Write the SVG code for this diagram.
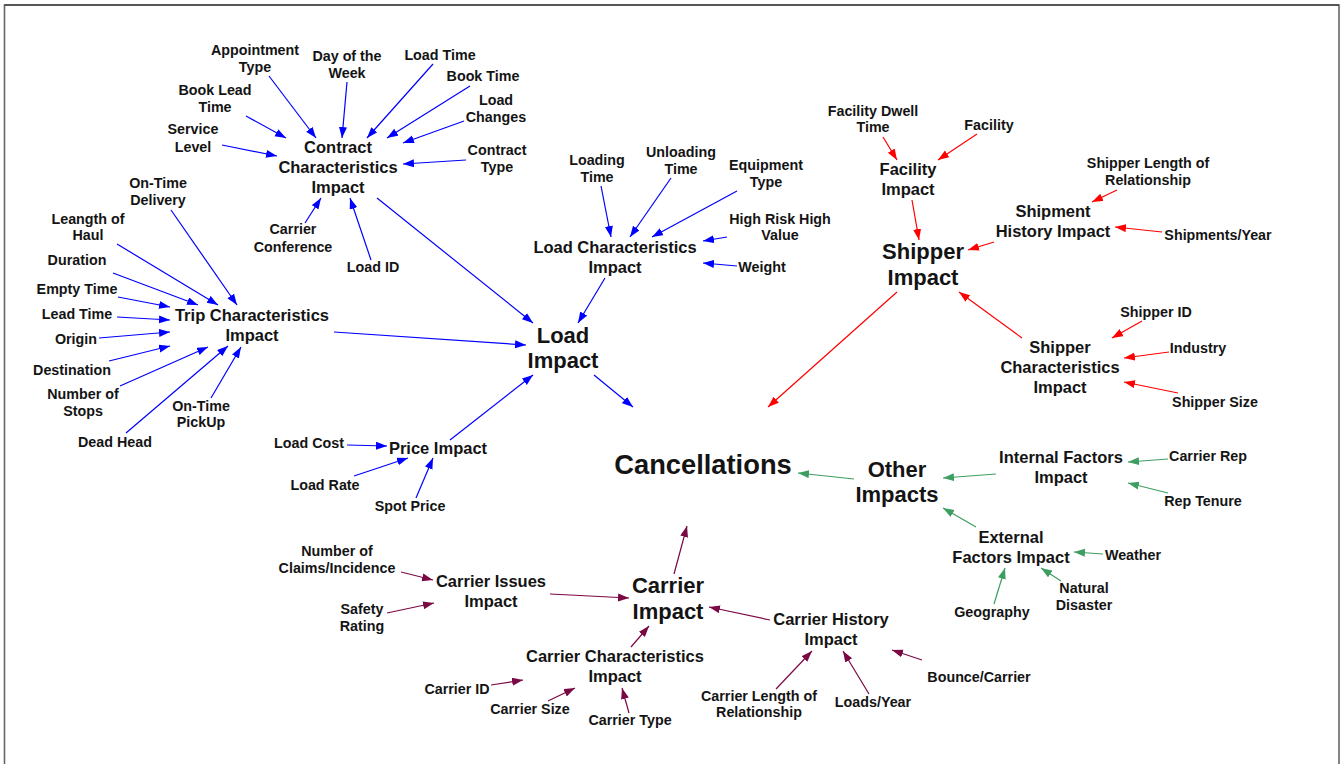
<svg xmlns="http://www.w3.org/2000/svg" width="1341" height="764" viewBox="0 0 1341 764">
<style>
text{font-family:"Liberation Sans",Arial,sans-serif;font-weight:bold;fill:#141414;text-anchor:middle}
.s{font-size:14.3px}
.m{font-size:16.5px}
.l{font-size:22px}
.c{font-size:27.3px}
.b{stroke:#0000FF;stroke-width:1.2;fill:none;marker-end:url(#ab)}
.r{stroke:#FF0000;stroke-width:1.2;fill:none;marker-end:url(#ar)}
.g{stroke:#3E9E62;stroke-width:1.2;fill:none;marker-end:url(#ag)}
.p{stroke:#7A0844;stroke-width:1.2;fill:none;marker-end:url(#ap)}
</style>
<defs>
<marker id="ab" markerUnits="userSpaceOnUse" markerWidth="12" markerHeight="9" refX="11" refY="4" orient="auto"><path d="M0,0 L11,4 L0,8 z" fill="#0000FF"/></marker>
<marker id="ar" markerUnits="userSpaceOnUse" markerWidth="12" markerHeight="9" refX="11" refY="4" orient="auto"><path d="M0,0 L11,4 L0,8 z" fill="#FF0000"/></marker>
<marker id="ag" markerUnits="userSpaceOnUse" markerWidth="12" markerHeight="9" refX="11" refY="4" orient="auto"><path d="M0,0 L11,4 L0,8 z" fill="#3E9E62"/></marker>
<marker id="ap" markerUnits="userSpaceOnUse" markerWidth="12" markerHeight="9" refX="11" refY="4" orient="auto"><path d="M0,0 L11,4 L0,8 z" fill="#7A0844"/></marker>
</defs>
<rect width="1341" height="764" fill="#fff"/>
<path d="M4.5,764 V5 H1339 V764" fill="none" stroke="#666" stroke-width="1.6"/>
<path d="M4.5,5 H1339" fill="none" stroke="#222" stroke-width="1.2"/>

<g id="connectors">
<!-- contract -->
<line class="b" x1="269" y1="76" x2="316" y2="138"/>
<line class="b" x1="347" y1="82" x2="342" y2="138"/>
<line class="b" x1="433" y1="64" x2="367" y2="138"/>
<line class="b" x1="470" y1="86" x2="387" y2="138"/>
<line class="b" x1="464" y1="121" x2="403" y2="143"/>
<line class="b" x1="466" y1="160" x2="403" y2="164"/>
<line class="b" x1="246" y1="116" x2="286" y2="138"/>
<line class="b" x1="222" y1="145" x2="277" y2="156"/>
<line class="b" x1="305" y1="223" x2="321" y2="198"/>
<line class="b" x1="371" y1="260" x2="350" y2="198"/>
<line class="b" x1="377" y1="198" x2="533" y2="323"/>
<!-- trip -->
<line class="b" x1="171" y1="210" x2="237" y2="305"/>
<line class="b" x1="117" y1="244" x2="218" y2="305"/>
<line class="b" x1="113" y1="273" x2="198" y2="305"/>
<line class="b" x1="118" y1="297" x2="170" y2="307"/>
<line class="b" x1="117" y1="317" x2="170" y2="320"/>
<line class="b" x1="99" y1="338" x2="170" y2="332"/>
<line class="b" x1="109" y1="361" x2="170" y2="346"/>
<line class="b" x1="120" y1="386" x2="208" y2="347"/>
<line class="b" x1="126" y1="433" x2="228" y2="346"/>
<line class="b" x1="211" y1="398" x2="241" y2="347"/>
<line class="b" x1="334" y1="332" x2="526" y2="345"/>
<!-- load characteristics -->
<line class="b" x1="601" y1="186" x2="611" y2="237"/>
<line class="b" x1="671" y1="178" x2="630" y2="237"/>
<line class="b" x1="737" y1="191" x2="652" y2="237"/>
<line class="b" x1="727" y1="237" x2="703" y2="241"/>
<line class="b" x1="737" y1="266" x2="703" y2="263"/>
<line class="b" x1="605" y1="278" x2="578" y2="323"/>
<!-- price -->
<line class="b" x1="347" y1="445" x2="387" y2="446"/>
<line class="b" x1="354" y1="476" x2="408" y2="458"/>
<line class="b" x1="416" y1="498" x2="433" y2="458"/>
<line class="b" x1="450" y1="440" x2="533" y2="375"/>
<line class="b" x1="594" y1="375" x2="633" y2="407"/>
<!-- shipper -->
<line class="r" x1="883" y1="137" x2="897" y2="160"/>
<line class="r" x1="977" y1="134" x2="938" y2="160"/>
<line class="r" x1="912" y1="200" x2="919" y2="240"/>
<line class="r" x1="1117" y1="190" x2="1092" y2="202"/>
<line class="r" x1="1162" y1="232" x2="1115" y2="227"/>
<line class="r" x1="994" y1="242" x2="968" y2="250"/>
<line class="r" x1="1142" y1="321" x2="1112" y2="338"/>
<line class="r" x1="1169" y1="352" x2="1124" y2="358"/>
<line class="r" x1="1178" y1="393" x2="1124" y2="382"/>
<line class="r" x1="1022" y1="338" x2="959" y2="292"/>
<line class="r" x1="897" y1="292" x2="768" y2="407"/>
<!-- other -->
<line class="g" x1="1168" y1="459" x2="1128" y2="462"/>
<line class="g" x1="1168" y1="493" x2="1128" y2="483"/>
<line class="g" x1="996" y1="474" x2="943" y2="478"/>
<line class="g" x1="1103" y1="554" x2="1074" y2="552"/>
<line class="g" x1="1061" y1="581" x2="1041" y2="568"/>
<line class="g" x1="994" y1="604" x2="1005" y2="568"/>
<line class="g" x1="976" y1="527" x2="943" y2="508"/>
<line class="g" x1="854" y1="479" x2="798" y2="473"/>
<!-- carrier -->
<line class="p" x1="401" y1="572" x2="433" y2="580"/>
<line class="p" x1="387" y1="613" x2="434" y2="603"/>
<line class="p" x1="550" y1="594" x2="629" y2="598"/>
<line class="p" x1="491" y1="685" x2="523" y2="680"/>
<line class="p" x1="548" y1="701" x2="575" y2="688"/>
<line class="p" x1="629" y1="713" x2="622" y2="688"/>
<line class="p" x1="631" y1="647" x2="649" y2="626"/>
<line class="p" x1="776" y1="689" x2="812" y2="651"/>
<line class="p" x1="869" y1="694" x2="843" y2="651"/>
<line class="p" x1="922" y1="660" x2="892" y2="650"/>
<line class="p" x1="770" y1="620" x2="709" y2="607"/>
<line class="p" x1="674" y1="574" x2="687" y2="526"/>
</g>

<g id="cancellations"><text class="c" x="703" y="474">Cancellations</text></g>

<g id="load-impact"><text class="l" x="563" y="343">Load</text><text class="l" x="563" y="368">Impact</text></g>
<g id="contract-impact"><text class="m" x="338" y="153">Contract</text><text class="m" x="338" y="173">Characteristics</text><text class="m" x="338" y="193">Impact</text></g>
<g id="appointment-type"><text class="s" x="255" y="55">Appointment</text><text class="s" x="255" y="72">Type</text></g>
<g id="day-of-week"><text class="s" x="347" y="61">Day of the</text><text class="s" x="347" y="78">Week</text></g>
<g id="load-time"><text class="s" x="440" y="60">Load Time</text></g>
<g id="book-time"><text class="s" x="483" y="81">Book Time</text></g>
<g id="load-changes"><text class="s" x="496" y="105">Load</text><text class="s" x="496" y="122">Changes</text></g>
<g id="contract-type"><text class="s" x="497" y="155">Contract</text><text class="s" x="497" y="172">Type</text></g>
<g id="book-lead-time"><text class="s" x="215" y="95">Book Lead</text><text class="s" x="215" y="112">Time</text></g>
<g id="service-level"><text class="s" x="193" y="134">Service</text><text class="s" x="193" y="152">Level</text></g>
<g id="carrier-conference"><text class="s" x="293" y="234">Carrier</text><text class="s" x="293" y="252">Conference</text></g>
<g id="load-id"><text class="s" x="373" y="272">Load ID</text></g>

<g id="trip-impact"><text class="m" x="252" y="321">Trip Characteristics</text><text class="m" x="252" y="341">Impact</text></g>
<g id="on-time-delivery"><text class="s" x="158" y="188">On-Time</text><text class="s" x="158" y="205">Delivery</text></g>
<g id="length-of-haul"><text class="s" x="88" y="224">Leangth of</text><text class="s" x="88" y="240">Haul</text></g>
<g id="duration"><text class="s" x="77" y="265">Duration</text></g>
<g id="empty-time"><text class="s" x="77" y="294">Empty Time</text></g>
<g id="lead-time"><text class="s" x="77" y="319">Lead Time</text></g>
<g id="origin"><text class="s" x="76" y="344">Origin</text></g>
<g id="destination"><text class="s" x="72" y="375">Destination</text></g>
<g id="number-of-stops"><text class="s" x="83" y="399">Number of</text><text class="s" x="83" y="416">Stops</text></g>
<g id="on-time-pickup"><text class="s" x="201" y="411">On-Time</text><text class="s" x="201" y="427">PickUp</text></g>
<g id="dead-head"><text class="s" x="115" y="447">Dead Head</text></g>

<g id="load-char-impact"><text class="m" x="615" y="253">Load Characteristics</text><text class="m" x="615" y="273">Impact</text></g>
<g id="loading-time"><text class="s" x="597" y="165">Loading</text><text class="s" x="597" y="182">Time</text></g>
<g id="unloading-time"><text class="s" x="681" y="157">Unloading</text><text class="s" x="681" y="174">Time</text></g>
<g id="equipment-type"><text class="s" x="766" y="170">Equipment</text><text class="s" x="766" y="187">Type</text></g>
<g id="high-risk"><text class="s" x="780" y="224">High Risk High</text><text class="s" x="780" y="240">Value</text></g>
<g id="weight"><text class="s" x="762" y="272">Weight</text></g>

<g id="price-impact"><text class="m" x="438" y="454">Price Impact</text></g>
<g id="load-cost"><text class="s" x="309" y="448">Load Cost</text></g>
<g id="load-rate"><text class="s" x="325" y="490">Load Rate</text></g>
<g id="spot-price"><text class="s" x="410" y="511">Spot Price</text></g>

<g id="shipper-impact"><text class="l" x="923" y="259">Shipper</text><text class="l" x="923" y="285">Impact</text></g>
<g id="facility-impact"><text class="m" x="908" y="175">Facility</text><text class="m" x="908" y="195">Impact</text></g>
<g id="facility-dwell"><text class="s" x="873" y="116">Facility Dwell</text><text class="s" x="873" y="132">Time</text></g>
<g id="facility"><text class="s" x="989" y="130">Facility</text></g>
<g id="shipment-history"><text class="m" x="1053" y="217">Shipment</text><text class="m" x="1053" y="237">History Impact</text></g>
<g id="shipper-length"><text class="s" x="1148" y="168">Shipper Length of</text><text class="s" x="1148" y="185">Relationship</text></g>
<g id="shipments-year"><text class="s" x="1218" y="240">Shipments/Year</text></g>
<g id="shipper-char"><text class="m" x="1060" y="353">Shipper</text><text class="m" x="1060" y="373">Characteristics</text><text class="m" x="1060" y="393">Impact</text></g>
<g id="shipper-id"><text class="s" x="1156" y="317">Shipper ID</text></g>
<g id="industry"><text class="s" x="1198" y="353">Industry</text></g>
<g id="shipper-size"><text class="s" x="1215" y="407">Shipper Size</text></g>

<g id="other-impacts"><text class="l" x="897" y="477">Other</text><text class="l" x="897" y="502">Impacts</text></g>
<g id="internal-factors"><text class="m" x="1061" y="463">Internal Factors</text><text class="m" x="1061" y="483">Impact</text></g>
<g id="carrier-rep"><text class="s" x="1208" y="461">Carrier Rep</text></g>
<g id="rep-tenure"><text class="s" x="1203" y="506">Rep Tenure</text></g>
<g id="external-factors"><text class="m" x="1011" y="543">External</text><text class="m" x="1011" y="563">Factors Impact</text></g>
<g id="weather"><text class="s" x="1133" y="560">Weather</text></g>
<g id="natural-disaster"><text class="s" x="1084" y="593">Natural</text><text class="s" x="1084" y="610">Disaster</text></g>
<g id="geography"><text class="s" x="992" y="617">Geography</text></g>

<g id="carrier-impact"><text class="l" x="668" y="593">Carrier</text><text class="l" x="668" y="619">Impact</text></g>
<g id="carrier-issues"><text class="m" x="491" y="587">Carrier Issues</text><text class="m" x="491" y="607">Impact</text></g>
<g id="claims"><text class="s" x="337" y="556">Number of</text><text class="s" x="337" y="573">Claims/Incidence</text></g>
<g id="safety-rating"><text class="s" x="362" y="614">Safety</text><text class="s" x="362" y="631">Rating</text></g>
<g id="carrier-char"><text class="m" x="615" y="662">Carrier Characteristics</text><text class="m" x="615" y="682">Impact</text></g>
<g id="carrier-id"><text class="s" x="457" y="694">Carrier ID</text></g>
<g id="carrier-size"><text class="s" x="530" y="714">Carrier Size</text></g>
<g id="carrier-type"><text class="s" x="630" y="725">Carrier Type</text></g>
<g id="carrier-history"><text class="m" x="831" y="625">Carrier History</text><text class="m" x="831" y="645">Impact</text></g>
<g id="carrier-length"><text class="s" x="759" y="701">Carrier Length of</text><text class="s" x="759" y="717">Relationship</text></g>
<g id="loads-year"><text class="s" x="873" y="707">Loads/Year</text></g>
<g id="bounce-carrier"><text class="s" x="979" y="682">Bounce/Carrier</text></g>
</svg>
